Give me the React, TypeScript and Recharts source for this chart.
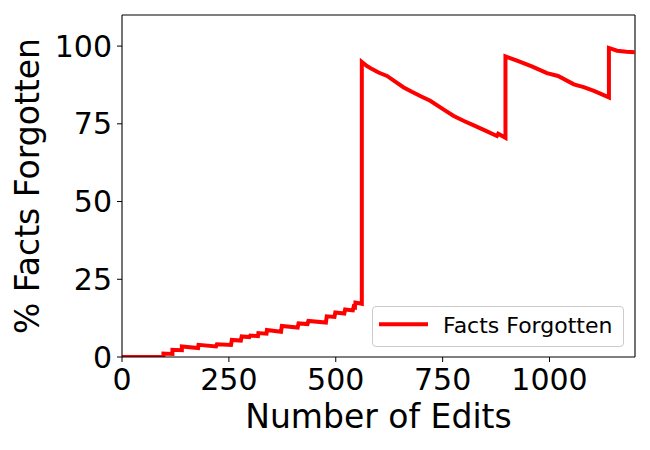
import React from 'react';
import { LineChart, Line, XAxis, YAxis, Legend, ReferenceLine } from 'recharts';

const edits = [
  0, 97, 97, 118, 118, 140, 140, 178, 179, 220, 222, 255, 257, 278, 280, 298, 300, 318, 319, 338,
  339, 372, 374, 411, 413, 434, 436, 477, 479, 497, 499, 520, 522, 540, 542, 545, 546, 561, 561,
  573, 585, 600, 620, 640, 659, 678, 700, 721, 750, 776, 800, 823, 850, 877, 880, 897, 897,
  924, 960, 994, 1020, 1057, 1080, 1104, 1139, 1139, 1158, 1180, 1200,
];
const forgotten = [
  0, 0, 1.1, 1.0, 2.3, 2.2, 3.4, 2.9, 3.9, 3.4, 4.1, 3.9, 5.5, 5.3, 6.6, 6.4, 6.9, 6.7, 7.7, 7.5,
  8.7, 8.1, 10.0, 9.5, 10.8, 10.6, 11.6, 11.1, 13.1, 12.9, 14.3, 14.0, 15.3, 15.0, 16.2, 16.0, 17.5, 17.1, 94.9,
  93.6, 92.6, 91.5, 90.4, 88.5, 86.7, 85.3, 83.8, 82.4, 79.8, 77.5, 75.9, 74.5, 72.8, 71.1, 71.8, 70.5, 96.7,
  95.3, 93.4, 91.3, 90.4, 87.7, 86.8, 85.6, 83.5, 99.4, 98.5, 98.2, 98.0,
];
const xTicks = [0, 250, 500, 750, 1000];
const yTicks = [0, 25, 50, 75, 100];
const seriesName = 'Facts Forgotten';
const xLabel = 'Number of Edits';
const yLabel = '% Facts Forgotten';

const data = edits.map((e, i) => ({ edits: e, forgotten: forgotten[i] }));

const FONT = 'DejaVu Sans, sans-serif';

const LegendBox = () => (
  <div
    style={{
      boxSizing: 'border-box',
      width: 252,
      height: 41,
      border: '1px solid #cccccc',
      borderRadius: 4,
      background: 'rgba(255,255,255,0.8)',
      position: 'relative',
    }}
  >
    <svg width={252} height={41} style={{ position: 'absolute', left: -1, top: -1 }}>
      <line x1={7} x2={56} y1={18.3} y2={18.3} stroke="#ff0000" strokeWidth={4} />
      <text x={71} y={27.3} fontSize={22} fontFamily={FONT} fill="#000">
        {seriesName}
      </text>
    </svg>
  </div>
);

export default function App() {
  return (
    <div style={{ fontFamily: FONT }}>
      <LineChart
        width={642}
        height={442}
        data={data}
        margin={{ top: 7, right: 15, bottom: 0, left: 0 }}
      >
        <XAxis
          dataKey="edits"
          type="number"
          domain={[0, 1200]}
          ticks={xTicks}
          allowDataOverflow
          height={93}
          tickSize={5}
          tickMargin={7}
          stroke="#000"
          tick={{ fill: '#000', fontSize: 30, fontFamily: FONT }}
          tickLine={{ stroke: '#000' }}
          axisLine={{ stroke: '#000', strokeWidth: 1.1 }}
          label={{
            value: xLabel,
            position: 'insideBottom',
            offset: 22,
            style: { fontSize: 33, fill: '#000', fontFamily: FONT },
          }}
        />
        <YAxis
          type="number"
          domain={[0, 110]}
          ticks={yTicks}
          allowDataOverflow
          width={114}
          tickSize={5}
          tickMargin={5}
          stroke="#000"
          tick={{ fill: '#000', fontSize: 30, fontFamily: FONT }}
          tickLine={{ stroke: '#000' }}
          axisLine={{ stroke: '#000', strokeWidth: 1.1 }}
          label={{
            value: yLabel,
            angle: -90,
            position: 'insideLeft',
            offset: 19,
            style: { fontSize: 33, fill: '#000', fontFamily: FONT, textAnchor: 'middle' },
          }}
        />
        <ReferenceLine y={110} stroke="#000" strokeWidth={1.1} />
        <ReferenceLine x={1200} stroke="#000" strokeWidth={1.1} />
        <Legend
          layout="horizontal"
          verticalAlign="middle"
          align="center"
          content={() => <LegendBox />}
          wrapperStyle={{ position: 'absolute', left: 364, top: 298, width: 252, height: 41 }}
        />
        <Line
          dataKey="forgotten"
          name={seriesName}
          type="linear"
          stroke="#ff0000"
          strokeWidth={4}
          dot={false}
          activeDot={false}
          isAnimationActive={false}
          strokeLinejoin="miter"
        />
      </LineChart>
    </div>
  );
}
